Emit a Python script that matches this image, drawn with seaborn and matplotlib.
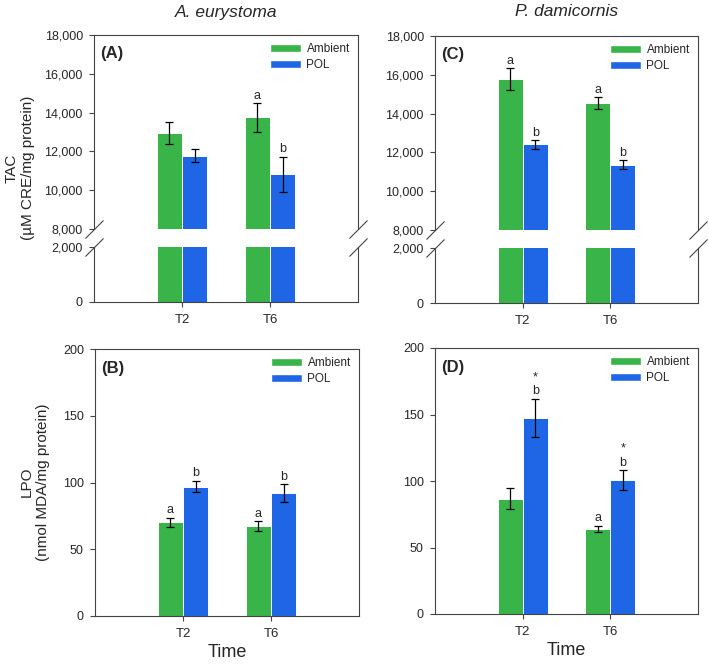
import numpy as np
import pandas as pd
import matplotlib
matplotlib.use("Agg")
import matplotlib.pyplot as plt
from matplotlib.patches import Patch
from matplotlib.ticker import StrMethodFormatter
import seaborn as sns

# values (mean +/- error)
times = ["T2", "T6"]
treatments = ["Ambient", "POL"]

aeu_tac_amb = [12940, 13750]
aeu_tac_amb_err = [575, 730]
aeu_tac_pol = [11780, 10830]
aeu_tac_pol_err = [345, 900]
aeu_tac_amb_lab = ["", "a"]
aeu_tac_pol_lab = ["", "b"]

pda_tac_amb = [15780, 14550]
pda_tac_amb_err = [567, 292]
pda_tac_pol = [12410, 11360]
pda_tac_pol_err = [215, 240]
pda_tac_amb_lab = ["a", "a"]
pda_tac_pol_lab = ["b", "b"]

aeu_lpo_amb = [70.3, 67.5]
aeu_lpo_amb_err = [3.4, 3.6]
aeu_lpo_pol = [97.0, 92.3]
aeu_lpo_pol_err = [4.4, 6.6]
aeu_lpo_amb_lab = ["a", "a"]
aeu_lpo_pol_lab = ["b", "b"]

pda_lpo_amb = [86.7, 63.9]
pda_lpo_amb_err = [8.1, 2.4]
pda_lpo_pol = [147.6, 100.8]
pda_lpo_pol_err = [14.4, 7.5]
pda_lpo_amb_lab = ["", "a"]
pda_lpo_pol_lab = ["b", "b"]
pda_lpo_pol_star = ["*", "*"]

colors = {"Ambient": "#38b449", "POL": "#1f66e6"}
spine_col = "#444444"

sns.set_style("ticks")
plt.rcParams["font.family"] = ["Liberation Sans", "DejaVu Sans"]

W, H = 709, 664
fig = plt.figure(figsize=(W / 100, H / 100), dpi=100)


def rect(l, t, r, b):
    return [l / W, 1 - b / H, (r - l) / W, (b - t) / H]


def style_ax(ax):
    for s in ax.spines.values():
        s.set_color(spine_col)
        s.set_linewidth(0.8)
        s.set_visible(True)
    ax.tick_params(direction="out", length=3.5, width=0.8, color=spine_col, labelsize=9)
    ax.tick_params(axis="y", pad=4.5)
    ax.tick_params(axis="x", labelsize=9.5, pad=5)
    ax.set_xlabel("")
    ax.set_ylabel("")


def draw(ax, amb, amb_err, pol, pol_err, amb_lab=None, pol_lab=None, star=None):
    df = pd.DataFrame({
        "Time": times * 2,
        "Treatment": ["Ambient"] * 2 + ["POL"] * 2,
        "value": amb + pol,
    })
    sns.barplot(data=df, x="Time", y="value", hue="Treatment", hue_order=treatments,
                palette=colors, saturation=1, width=0.57, errorbar=None, legend=False,
                edgecolor="white", linewidth=0.7, ax=ax)
    ax.set_xlim(-1, 2)
    errs = [amb_err, pol_err]
    labs = [amb_lab, pol_lab]
    vals = [amb, pol]
    bar_groups = list(ax.containers)
    for i, cont in enumerate(bar_groups):
        for j, bar in enumerate(cont.patches):
            xc = bar.get_x() + bar.get_width() / 2
            ax.errorbar(xc, vals[i][j], yerr=errs[i][j], color="black", capsize=3.2,
                        elinewidth=0.9, capthick=0.9, fmt="none")
            top = vals[i][j] + errs[i][j]
            if labs[i] is not None and labs[i][j]:
                ax.annotate(labs[i][j], (xc, top), xytext=(0, 1), textcoords="offset points",
                            ha="center", va="bottom", fontsize=9)
            if star is not None and i == 1 and star[j]:
                ax.annotate(star[j], (xc, top), xytext=(0, 11), textcoords="offset points",
                            ha="center", va="bottom", fontsize=9)
    style_ax(ax)


def legend(ax):
    handles = [Patch(facecolor=colors[t], edgecolor="white", label=t) for t in treatments]
    ax.legend(handles=handles, loc="upper right", frameon=False, fontsize=8.5,
              handlelength=2.6, handleheight=0.65, handletextpad=0.5,
              borderaxespad=0.3, labelspacing=0.35)


def break_marks(ax_up, ax_lo):
    kw = dict(marker=[(-1, -1), (1, 1)], markersize=13, linestyle="none",
              color=spine_col, mec=spine_col, mew=0.8, clip_on=False)
    ax_up.plot([0, 1], [0, 0], transform=ax_up.transAxes, **kw)
    ax_lo.plot([0, 1], [1, 1], transform=ax_lo.transAxes, **kw)


def broken_panel(r_up, r_lo, amb, amb_err, pol, pol_err, amb_lab, pol_lab, tag):
    ax_up = fig.add_axes(rect(*r_up))
    ax_lo = fig.add_axes(rect(*r_lo))
    for ax in (ax_up, ax_lo):
        draw(ax, amb, amb_err, pol, pol_err, amb_lab if ax is ax_up else None,
             pol_lab if ax is ax_up else None)
    ax_up.set_ylim(8000, 18000)
    ax_up.set_yticks(np.arange(8000, 18001, 2000))
    ax_lo.set_ylim(0, 2000)
    ax_lo.set_yticks([0, 2000])
    for ax in (ax_up, ax_lo):
        ax.yaxis.set_major_formatter(StrMethodFormatter("{x:,.0f}"))
    ax_up.spines["bottom"].set_visible(False)
    ax_lo.spines["top"].set_visible(False)
    ax_up.tick_params(axis="x", bottom=False, labelbottom=False)
    break_marks(ax_up, ax_lo)
    legend(ax_up)
    ax_up.text(0.025, 0.945, tag, transform=ax_up.transAxes, ha="left", va="top",
               fontsize=12, fontweight="bold")
    return ax_up, ax_lo


# top row: TAC with broken axis
broken_panel((94, 35, 358, 229), (94, 247, 358, 302),
             aeu_tac_amb, aeu_tac_amb_err, aeu_tac_pol, aeu_tac_pol_err,
             aeu_tac_amb_lab, aeu_tac_pol_lab, "(A)")
broken_panel((435, 36, 698, 230), (435, 248, 698, 303),
             pda_tac_amb, pda_tac_amb_err, pda_tac_pol, pda_tac_pol_err,
             pda_tac_amb_lab, pda_tac_pol_lab, "(C)")

# bottom row: LPO
ax_b = fig.add_axes(rect(95, 349, 359, 616))
draw(ax_b, aeu_lpo_amb, aeu_lpo_amb_err, aeu_lpo_pol, aeu_lpo_pol_err,
     aeu_lpo_amb_lab, aeu_lpo_pol_lab)
ax_d = fig.add_axes(rect(435, 348, 698, 614))
draw(ax_d, pda_lpo_amb, pda_lpo_amb_err, pda_lpo_pol, pda_lpo_pol_err,
     pda_lpo_amb_lab, pda_lpo_pol_lab, star=pda_lpo_pol_star)
for ax, tag in ((ax_b, "(B)"), (ax_d, "(D)")):
    ax.set_ylim(0, 200)
    ax.set_yticks(np.arange(0, 201, 50))
    ax.set_xlabel("Time", fontsize=13, labelpad=3)
    legend(ax)
    ax.text(0.025, 0.955, tag, transform=ax.transAxes, ha="left", va="top",
            fontsize=12, fontweight="bold")

# column titles and row labels
fig.text(226 / W, 1 - 12 / H, "A. eurystoma", ha="center", va="center",
         fontsize=12.5, style="italic")
fig.text(567 / W, 1 - 12 / H, "P. damicornis", ha="center", va="center",
         fontsize=12.5, style="italic")
fig.text(20 / W, 1 - 168 / H, "TAC\n(µM CRE/mg protein)", ha="center", va="center",
         rotation=90, fontsize=11, multialignment="center", linespacing=1.25)
fig.text(35 / W, 1 - 482 / H, "LPO\n(nmol MDA/mg protein)", ha="center", va="center",
         rotation=90, fontsize=11, multialignment="center", linespacing=1.25)

fig.savefig("out.png", dpi=100)
